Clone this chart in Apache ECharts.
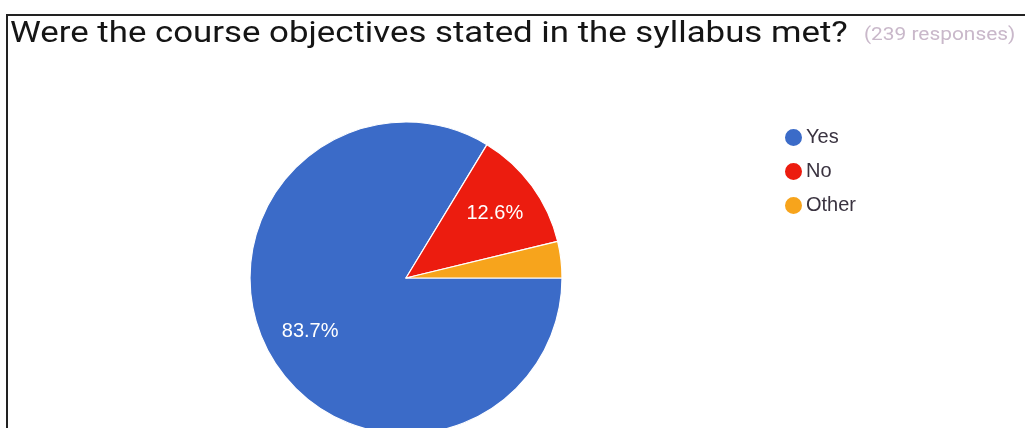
<!DOCTYPE html>
<html>
<head>
<meta charset="utf-8">
<script src="https://cdn.jsdelivr.net/npm/echarts@6/dist/echarts.min.js"></script>
<style>
  html, body { margin: 0; padding: 0; background: #fff; }
  #frame { position: absolute; left: 6px; top: 14px; width: 1040px; height: 440px;
           border-left: 2px solid #222; border-top: 2px solid #222; }
  #chart { position: absolute; left: 0; top: 0; width: 1025px; height: 428px; }
</style>
</head>
<body>
<div id="frame"></div>
<div id="chart"></div>
<script>
// Survey answers (239 responses)
const categories = ['Yes', 'No', 'Other'];
const responses = [200, 30, 9];
const colors = ['#3b6bc8', '#ec1c0f', '#f7a41c'];
const titleText = 'Were the course objectives stated in the syllabus met?';
const subText = '(239 responses)';

const total = responses.reduce((a, b) => a + b, 0);
const slices = categories.map((name, i) => ({ name, value: responses[i] }));
// Small slices carry no percentage label
const labelled = categories.map((name, i) => ({
  name, value: responses[i],
  label: { show: responses[i] / total > 0.05 }
}));

const chart = echarts.init(document.getElementById('chart'));
chart.setOption({
  animation: false,
  color: colors,
  graphic: [{
    type: 'text',
    left: 10,
    top: 19,
    scaleX: 1.16,
    style: {
      text: '{t|' + titleText + '}{s|' + subText + '}',
      rich: {
        t: { fontFamily: 'Roboto', fontSize: 30, fill: '#151515', lineHeight: 32 },
        s: { fontFamily: 'Roboto', fontSize: 18, fill: '#c9b8ca', lineHeight: 32, padding: [3, 0, 0, 14] }
      }
    }
  }],
  legend: {
    orient: 'vertical',
    left: 778, top: 122,
    icon: 'circle',
    itemWidth: 19, itemHeight: 19,
    itemGap: 13,
    textStyle: { fontFamily: 'Liberation Sans', fontSize: 20, color: '#3a3340', padding: [0, 0, 0, -2] },
    data: categories
  },
  series: [
    {
      type: 'pie',
      center: [406, 278],
      radius: [0, 156],
      startAngle: 0,
      clockwise: true,
      avoidLabelOverlap: false,
      label: { show: false },
      labelLine: { show: false },
      itemStyle: { borderColor: '#fff', borderWidth: 1.2 },
      data: slices
    },
    {
      // label ring: places percentages about two thirds of the way out
      type: 'pie',
      center: [406, 278],
      radius: [58, 156],
      startAngle: 0,
      clockwise: true,
      silent: true,
      legendHoverLink: false,
      avoidLabelOverlap: false,
      itemStyle: { color: 'rgba(0,0,0,0)' },
      labelLine: { show: false },
      label: {
        position: 'inside',
        formatter: p => (p.value / total * 100).toFixed(1) + '%',
        fontFamily: 'Liberation Sans',
        fontSize: 20,
        color: '#fff'
      },
      data: labelled
    }
  ]
});
</script>
</body>
</html>
